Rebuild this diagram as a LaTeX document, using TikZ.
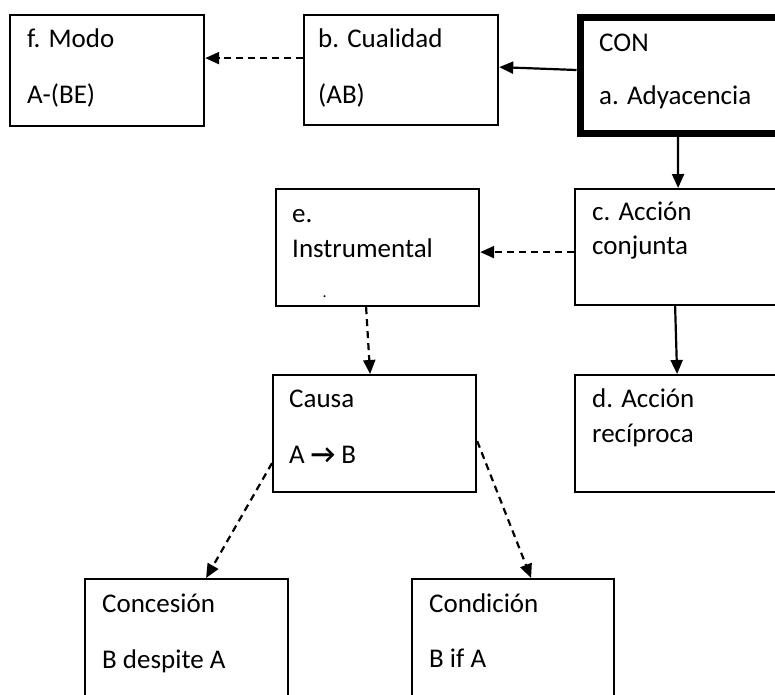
\documentclass[tikz,border=0pt]{standalone}
\usepackage{fontspec}
\setmainfont{Carlito}
\newfontfamily\arrowfont{DejaVu Sans}
\usetikzlibrary{arrows.meta}
\begin{document}
\begin{tikzpicture}[x=1pt,y=-1pt,
  box/.style={draw,line width=2.2pt,inner sep=0pt,anchor=north west},
  lbl/.style={anchor=base west,inner sep=0pt,font=\fontsize{27}{32}\selectfont},
  arr/.style={line width=2.2pt,-{Triangle[length=14pt,width=12pt]}},
  dsh/.style={arr,dash pattern=on 7pt off 5pt}]
\clip (0,0) rectangle (775,694);
\fill[white] (0,0) rectangle (775,694);
% boxes
\node[box,minimum width=194pt,minimum height=111pt] (f) at (9,14) {};
\node[box,minimum width=194pt,minimum height=110pt] (b) at (303,14) {};
\node[box,line width=7pt,minimum width=230pt,minimum height=116pt] (con) at (576.5,13.5) {};
\node[box,minimum width=220pt,minimum height=116pt] (c) at (574,188) {};
\node[box,minimum width=203pt,minimum height=117pt] (e) at (275,188) {};
\node[box,minimum width=203pt,minimum height=117pt] (causa) at (272,374) {};
\node[box,minimum width=220pt,minimum height=117pt] (d) at (574,374) {};
\node[box,minimum width=203pt,minimum height=140pt] (conc) at (84,578) {};
\node[box,minimum width=202pt,minimum height=140pt] (cond) at (411,578) {};
% texts
\node[lbl] (tf1) at (27,47) {f. Modo};
\node[lbl] (tf2) at (27,103) {A-(BE)};
\node[lbl] (tb1) at (318,47) {b. Cualidad};
\node[lbl] (tb2) at (318,103) {(AB)};
\node[lbl] (ta1) at (599,51) {CON};
\node[lbl] (ta2) at (599,104) {a. Adyacencia};
\node[lbl] (te1) at (292,222) {e.};
\node[lbl] (te2) at (292,257) {Instrumental};
\node[lbl,font=\fontsize{16}{18}\selectfont] (tdot) at (322.5,297) {.};
\node[lbl] (tc1) at (592,220) {c. Acción};
\node[lbl] (tc2) at (592,254) {conjunta};
\node[lbl] (tk1) at (289,407) {Causa};
\node[lbl] (tk2) at (289,463) {A {\bfseries →} B};
\node[lbl] (td1) at (592,407) {d. Acción};
\node[lbl] (td2) at (592,442) {recíproca};
\node[lbl] (tn1) at (102,612) {Concesión};
\node[lbl] (tn2) at (102,668) {B despite A};
\node[lbl] (to1) at (429,612) {Condición};
\node[lbl] (to2) at (429,667) {B if A};
% connectors
\draw[dsh] ([yshift=12pt]b.west) -- ([yshift=12.5pt]f.east);
\draw[arr] ([yshift=5pt]con.west) -- ([yshift=3pt]b.east);
\draw[arr] ([xshift=-17pt]con.south) -- ([xshift=-7pt]c.north);
\draw[dsh] ([yshift=-5pt]c.west) -- ([yshift=-4.5pt]e.east);
\draw[dsh] ([xshift=-11.5pt]e.south) -- ([xshift=-4.5pt]causa.north);
\draw[arr] ([xshift=-10pt]c.south) -- ([xshift=-8pt]d.north);
\draw[dsh] ([yshift=-29.5pt]causa.west) -- ([xshift=19.5pt]conc.north);
\draw[dsh] ([yshift=-7.5pt]causa.east) -- ([xshift=18pt]cond.north);
\end{tikzpicture}
\end{document}
